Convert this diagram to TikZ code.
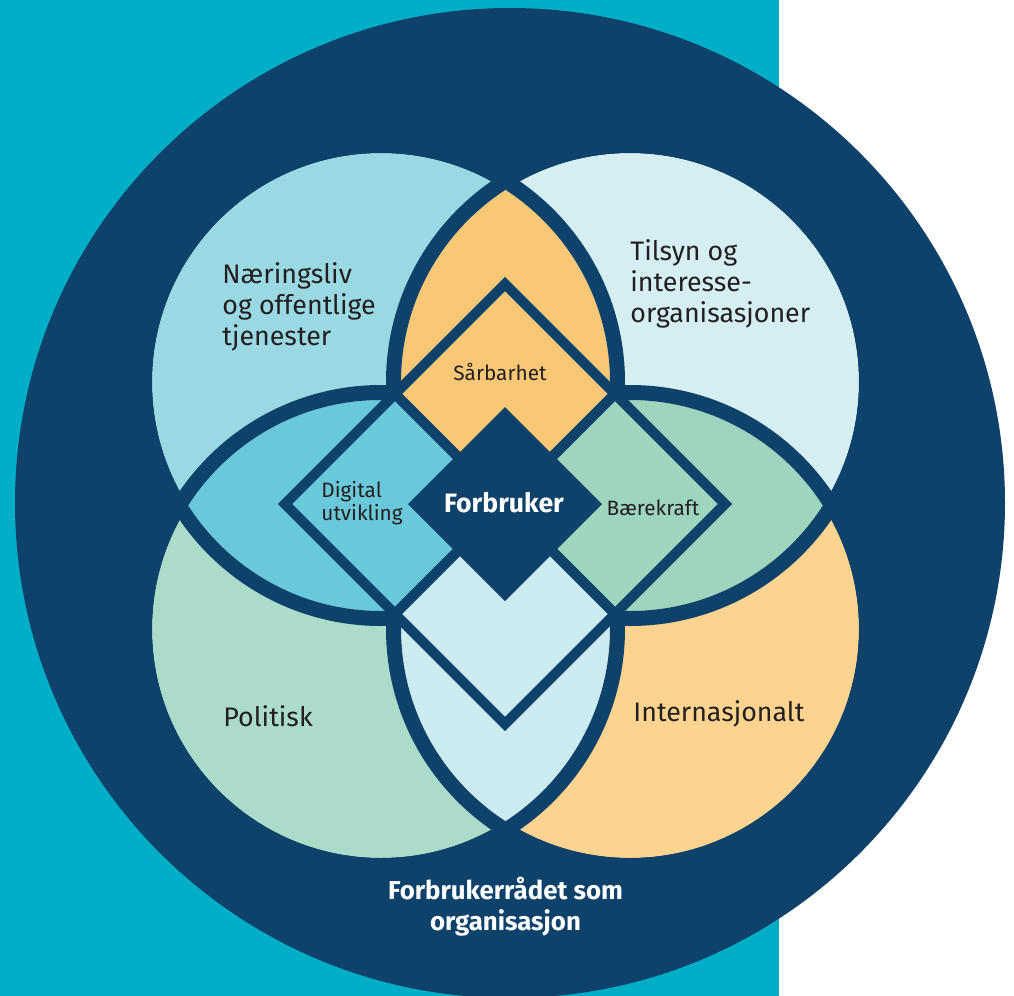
\documentclass[tikz,border=0pt]{standalone}
\usepackage{fontspec}
\setmainfont{Fira Sans}
\usepackage{tikz}
\usetikzlibrary{positioning}

\definecolor{navy}{HTML}{0E426B}
\definecolor{sea}{HTML}{00AEC7}
\definecolor{ink}{HTML}{231F20}
\definecolor{fillNL}{HTML}{9AD9E3}
\definecolor{fillTI}{HTML}{D5EEF2}
\definecolor{fillPO}{HTML}{ABDBC9}
\definecolor{fillIN}{HTML}{FCD48F}
\definecolor{lensTop}{HTML}{F8C877}
\definecolor{lensLeft}{HTML}{69C8D9}
\definecolor{lensRight}{HTML}{9DD5BF}
\definecolor{lensBot}{HTML}{CCEBF0}

\tikzset{
  ring/.style={draw=navy, line width=7.5pt},
  cell/.style={draw=navy, line width=5pt, miter limit=10},
  lbl/.style={text=ink, inner sep=0pt, align=left, font=\fontsize{13.4}{15.5}\selectfont},
  small/.style={text=ink, inner sep=0pt, align=left, font=\fontsize{10.4}{11.5}\selectfont},
  light/.style={text=white, inner sep=0pt, align=center, font=\bfseries\fontsize{12.9}{15.5}\selectfont},
}

\begin{document}
\begin{tikzpicture}[x=0.5pt, y=-0.5pt]
\useasboundingbox (0,0) rectangle (1014,996);
\fill[white] (0,0) rectangle (1014,996);
\fill[sea] (0,0) rectangle (779,996);
\fill[navy] (510,503) circle (495);

\coordinate (nl) at (381,382);
\coordinate (ti) at (630,382);
\coordinate (po) at (381,629);
\coordinate (in) at (630,629);

% the four fields
\fill[fillNL] (nl) circle (229);
\fill[fillTI] (ti) circle (229);
\fill[fillPO] (po) circle (229);
\fill[fillIN] (in) circle (229);

% overlaps
\begin{scope}
  \clip (nl) circle (229);
  \fill[lensTop] (ti) circle (229);
  \fill[lensLeft] (po) circle (229);
\end{scope}
\begin{scope}
  \clip (in) circle (229);
  \fill[lensRight] (ti) circle (229);
  \fill[lensBot] (po) circle (229);
\end{scope}
\foreach \c in {nl,ti,po,in}
  \draw[ring] (\c) circle (236.5);

% diamonds
\filldraw[cell, fill=lensTop] (505,284) -- (615,394) -- (505,504) -- (395,394) -- cycle;
\filldraw[cell, fill=lensLeft] (395,394) -- (505,504) -- (395,614) -- (285,504) -- cycle;
\filldraw[cell, fill=lensRight] (615,394) -- (725,504) -- (615,614) -- (505,504) -- cycle;
\filldraw[cell, fill=lensBot] (505,504) -- (615,614) -- (505,724) -- (395,614) -- cycle;
\fill[navy] (505,407) -- (602,504) -- (505,601) -- (408,504) -- cycle;

% labels
\node[lbl, anchor=west] (naering) at (222,307) {Næringsliv\\og offentlige\\tjenester};
\node[lbl, anchor=west] (tilsyn) at (630,284) {Tilsyn og\\interesse-\\organisasjoner};
\node[lbl, anchor=west] (politisk) at (223,716) {Politisk};
\node[lbl, anchor=west] (internasjonalt) at (633,714) {Internasjonalt};
\node[small, anchor=base] (saarbar) at (500,380) {Sårbarhet};
\node[small, anchor=west] (digital) at (321,503) {Digital\\utvikling};
\node[small, anchor=base] (baere) at (653,515) {Bærekraft};
\node[light, anchor=base, font=\bfseries\fontsize{13.3}{15.5}\selectfont] (forbruker) at (504,512) {Forbruker};
\node[light] (organisasjon) at (505.5,907) {Forbrukerrådet som\\organisasjon};
\end{tikzpicture}
\end{document}
